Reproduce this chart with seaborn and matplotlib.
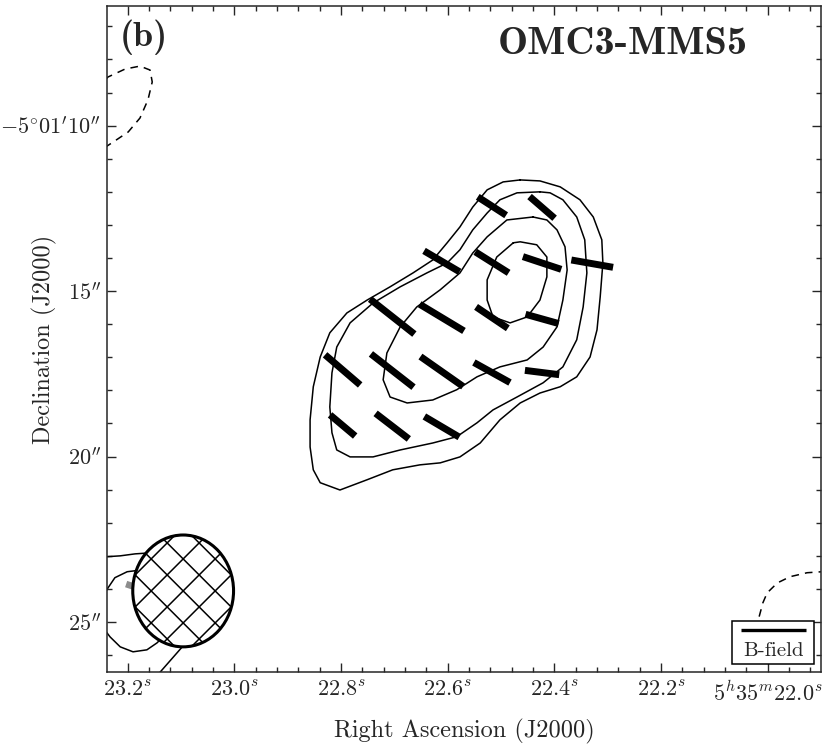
import numpy as np
import pandas as pd
import matplotlib
matplotlib.use('Agg')
import matplotlib.pyplot as plt
import seaborn as sns
from matplotlib.patches import Ellipse, Rectangle
from matplotlib.ticker import MultipleLocator, FixedLocator
from matplotlib.transforms import IdentityTransform

# Stokes I contours (RA seconds of 5h35m, Dec arcsec below -5d01'00")
c1_ra = [22.464, 22.496, 22.526, 22.553, 22.577, 22.601, 22.628, 22.665, 22.708, 22.751,
         22.789, 22.821, 22.839, 22.852, 22.858, 22.858, 22.852, 22.839, 22.802, 22.751,
         22.703, 22.652, 22.614, 22.577, 22.539, 22.502, 22.464, 22.427, 22.389, 22.358,
         22.333, 22.320, 22.314, 22.309, 22.311, 22.327, 22.352, 22.389, 22.427]
c1_dec = [-11.64, -11.70, -11.94, -12.46, -13.06, -13.54, -14.06, -14.45, -14.87, -15.27,
          -15.66, -16.26, -16.99, -17.89, -18.89, -19.71, -20.40, -20.79, -21.01, -20.70,
          -20.40, -20.25, -20.19, -20.01, -19.59, -18.89, -18.38, -18.08, -17.89, -17.59,
          -16.99, -16.17, -15.17, -14.15, -13.45, -12.76, -12.24, -11.85, -11.67]

c2_ra = [22.427, 22.470, 22.502, 22.526, 22.553, 22.577, 22.601, 22.639, 22.689, 22.740,
         22.783, 22.808, 22.817, 22.821, 22.817, 22.808, 22.783, 22.740, 22.689, 22.628,
         22.583, 22.545, 22.515, 22.470, 22.421, 22.384, 22.358, 22.346, 22.339, 22.343,
         22.358, 22.384, 22.408]
c2_dec = [-12.00, -12.03, -12.24, -12.64, -13.15, -13.75, -14.15, -14.45, -14.87, -15.36,
          -15.96, -16.69, -17.47, -18.50, -19.28, -19.80, -20.01, -20.01, -19.80, -19.59,
          -19.40, -18.98, -18.59, -18.20, -17.77, -17.29, -16.47, -15.48, -14.45, -13.45,
          -12.76, -12.24, -12.03]

c3_ra = [22.440, 22.489, 22.526, 22.553, 22.577, 22.614, 22.658, 22.689, 22.714, 22.721,
         22.708, 22.676, 22.628, 22.583, 22.545, 22.502, 22.451, 22.421, 22.395, 22.384,
         22.376, 22.380, 22.395, 22.414]
c3_dec = [-12.76, -12.85, -13.36, -13.85, -14.45, -14.96, -15.48, -16.08, -16.87, -17.68,
          -18.20, -18.38, -18.29, -17.98, -17.59, -17.29, -17.08, -16.69, -16.08, -15.27,
          -14.36, -13.66, -13.15, -12.85]

c4_ra = [22.477, 22.508, 22.526, 22.526, 22.515, 22.483, 22.451, 22.427, 22.414, 22.414,
         22.433, 22.464]
c4_dec = [-13.54, -13.97, -14.66, -15.27, -15.78, -15.96, -15.78, -15.27, -14.57, -13.97,
          -13.60, -13.51]

# neighbouring source near the lower left corner (open curves)
e1_ra = [23.243, 23.214, 23.186, 23.158, 23.121]
e1_dec = [-23.03, -23.00, -22.94, -22.91, -22.95]
e2_ra = [23.158, 23.171, 23.201, 23.224, 23.237, 23.250, 23.250, 23.233, 23.214, 23.190,
         23.164, 23.145, 23.121]
e2_dec = [-23.36, -23.42, -23.48, -23.66, -23.97, -24.33, -25.09, -25.45, -25.75, -25.90,
          -25.84, -25.63, -25.24]
e3_ra = [23.149, 23.139, 23.096, 23.074]
e3_dec = [-26.69, -26.51, -25.72, -25.30]

# negative (dashed) contours
n1_ra = [23.241, 23.237, 23.205, 23.177, 23.158, 23.154, 23.162, 23.177, 23.199, 23.224, 23.241]
n1_dec = [-8.60, -8.53, -8.29, -8.20, -8.32, -8.68, -9.22, -9.77, -10.19, -10.46, -10.64]
n2_ra = [22.022, 22.018, 22.014, 22.009, 22.001, 21.982, 21.958, 21.926, 21.898]
n2_dec = [-25.24, -24.96, -24.72, -24.42, -24.12, -23.82, -23.63, -23.51, -23.48]

# B-field segments: centre, position angle (deg E of N), length (arcsec)
vec_ra = [22.517, 22.423, 22.611, 22.517, 22.423, 22.329, 22.704, 22.611, 22.517, 22.423,
          22.797, 22.704, 22.611, 22.517, 22.423, 22.797, 22.704, 22.611]
vec_dec = [-12.43, -12.47, -14.10, -14.13, -14.15, -14.17, -15.77, -15.80, -15.80, -15.84,
           -17.38, -17.40, -17.43, -17.46, -17.46, -19.06, -19.08, -19.10]
vec_pa = [55.1, 46.9, 57.6, 55.8, 70.3, 79.3, 49.6, 57.0, 54.0, 73.2,
          47.2, 49.9, 52.9, 59.1, 82.3, 47.8, 50.3, 57.5]
vec_len = [0.97, 0.96, 1.18, 1.13, 1.14, 1.19, 1.63, 1.48, 1.10, 0.97,
           1.34, 1.56, 1.50, 1.18, 0.97, 0.95, 1.21, 1.16]

# faint segment of the neighbouring source
faint_ra = [23.196]
faint_dec = [-23.89]
faint_pa = [70.0]
faint_len = [0.22]

# synthesized beam
beam_ra, beam_dec = 23.096, -24.06
beam_w, beam_h = 0.189, 3.38  # RA seconds, arcsec

ra_ticks = [23.2, 23.0, 22.8, 22.6, 22.4, 22.2, 22.0]
ra_labels = [r'$23.2^{s}$', r'$23.0^{s}$', r'$22.8^{s}$', r'$22.6^{s}$', r'$22.4^{s}$',
             r'$22.2^{s}$', r'$5^{h}35^{m}22.0^{s}$']
dec_ticks = [-10, -15, -20, -25]
dec_labels = [r'$-5^{\circ}01^{\prime}10^{\prime\prime}$', r'$15^{\prime\prime}$',
              r'$20^{\prime\prime}$', r'$25^{\prime\prime}$']


def line_frame(pieces, closed):
    rows = []
    for i, (ra, dec) in enumerate(pieces):
        ra = list(ra)
        dec = list(dec)
        if closed:
            ra = ra + ra[:1]
            dec = dec + dec[:1]
        for k, (x, y) in enumerate(zip(ra, dec)):
            rows.append({'cid': i, 'k': k, 'ra': x, 'dec': y})
    return pd.DataFrame(rows)


def vector_frame(ra, dec, pa, length):
    rows = []
    for i in range(len(ra)):
        t = np.deg2rad(pa[i])
        dn = 0.5 * length[i] * np.cos(t)
        de = 0.5 * length[i] * np.sin(t) / (15 * np.cos(np.deg2rad(5.0)))
        rows.append({'vid': i, 'ra': ra[i] + de, 'dec': dec[i] + dn})
        rows.append({'vid': i, 'ra': ra[i] - de, 'dec': dec[i] - dn})
    return pd.DataFrame(rows)


sns.set_style('ticks')
plt.rcParams['font.family'] = 'serif'
plt.rcParams['font.serif'] = ['cmr10']
plt.rcParams['mathtext.fontset'] = 'cm'
plt.rcParams['axes.unicode_minus'] = False
plt.rcParams['axes.linewidth'] = 1.1

fig = plt.figure(figsize=(8.31, 7.5), dpi=100)
ax = fig.add_axes([107 / 831, 1 - 672 / 750, 714 / 831, 666 / 750])

closed_df = line_frame([(c1_ra, c1_dec), (c2_ra, c2_dec), (c3_ra, c3_dec), (c4_ra, c4_dec)], True)
open_df = line_frame([(e1_ra, e1_dec), (e2_ra, e2_dec), (e3_ra, e3_dec)], False)
neg_df = line_frame([(n1_ra, n1_dec), (n2_ra, n2_dec)], False)

sns.lineplot(data=closed_df, x='ra', y='dec', units='cid', estimator=None, sort=False,
             color='black', lw=1.1, ax=ax, legend=False, zorder=2)
sns.lineplot(data=open_df, x='ra', y='dec', units='cid', estimator=None, sort=False,
             color='black', lw=1.1, ax=ax, legend=False, zorder=2)
sns.lineplot(data=neg_df, x='ra', y='dec', units='cid', estimator=None, sort=False,
             color='black', lw=1.1, linestyle=(0, (5, 4)), ax=ax, legend=False, zorder=2)

vec_df = vector_frame(vec_ra, vec_dec, vec_pa, vec_len)
sns.lineplot(data=vec_df, x='ra', y='dec', units='vid', estimator=None, sort=False,
             color='black', lw=5.0, solid_capstyle='butt', ax=ax, legend=False, zorder=3)
faint_df = vector_frame(faint_ra, faint_dec, faint_pa, faint_len)
sns.lineplot(data=faint_df, x='ra', y='dec', units='vid', estimator=None, sort=False,
             color='0.55', lw=4.8, solid_capstyle='butt', ax=ax, legend=False, zorder=3)

ax.set_xlim(23.2388, 21.900)
ax.set_ylim(-26.51, -6.384)

# beam with a coarse cross hatch
beam = Ellipse((beam_ra, beam_dec), beam_w, beam_h, facecolor='white', edgecolor='none', zorder=5)
ax.add_patch(beam)
bx, by = ax.transData.transform((beam_ra, beam_dec))
for off in np.arange(-160, 161, 32):
    for sgn in (1, -1):
        xs = np.array([bx - 80, bx + 80])
        ys = by + off + sgn * (xs - bx)
        hl, = ax.plot(xs, ys, color='black', lw=1.1, transform=IdentityTransform(), zorder=6)
        hl.set_clip_path(beam)
ax.add_patch(Ellipse((beam_ra, beam_dec), beam_w, beam_h, facecolor='none',
                     edgecolor='black', lw=2.2, zorder=7))

# B-field legend box
ax.add_patch(Rectangle((0.876, 0.0116), 0.1146, 0.065, transform=ax.transAxes,
                       facecolor='white', edgecolor='black', lw=1.1, zorder=8))
ax.plot([0.888, 0.979], [0.063, 0.063], color='black', lw=2.4, transform=ax.transAxes,
        solid_capstyle='butt', zorder=9)
ax.text(0.9335, 0.031, 'B-field', transform=ax.transAxes, ha='center', va='center',
        fontsize=15, zorder=9)

ax.xaxis.set_major_locator(FixedLocator(ra_ticks))
ax.set_xticklabels(ra_labels)
ax.xaxis.set_minor_locator(MultipleLocator(0.04))
ax.yaxis.set_major_locator(FixedLocator(dec_ticks))
ax.set_yticklabels(dec_labels)
ax.yaxis.set_minor_locator(MultipleLocator(1))
ax.tick_params(which='both', direction='in', top=True, right=True, width=1.0, labelsize=16)
ax.tick_params(which='major', length=6.5)
ax.tick_params(axis='x', which='major', pad=6)
ax.tick_params(axis='y', which='major', pad=4)
ax.tick_params(which='minor', length=3.5)

ax.set_xlabel('Right Ascension (J2000)', fontsize=17.5, labelpad=10)
ax.set_ylabel('Declination (J2000)', fontsize=17.5)
ax.yaxis.set_label_coords(-0.07, 0.5)

ax.text(0.018, 0.953, '(b)', transform=ax.transAxes, fontfamily='cmb10', fontsize=26,
        ha='left', va='center')
ax.text(0.898, 0.942, 'OMC3-MMS5', transform=ax.transAxes, fontfamily='cmb10', fontsize=29,
        ha='right', va='center')

fig.savefig('out.png', dpi=100)
